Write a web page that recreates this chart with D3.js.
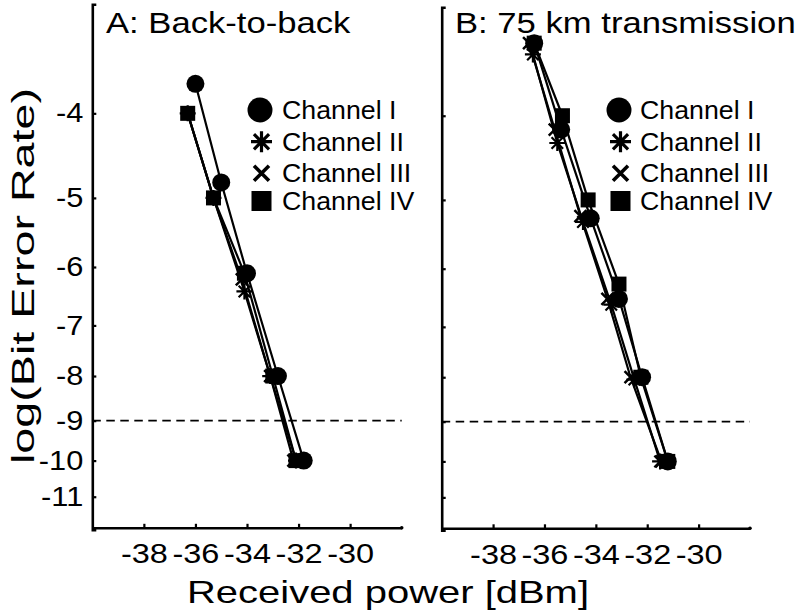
<!DOCTYPE html>
<html><head><meta charset="utf-8">
<script src="https://cdn.jsdelivr.net/npm/d3@7"></script>
<style>body{margin:0;background:#fff}svg{display:block}</style>
</head><body>
<svg id="chart" width="799" height="614"></svg>
<script>
// ---------- data ----------
const channels = ["Channel I", "Channel II", "Channel III", "Channel IV"];
const markerTypes = ["circle", "star", "cross", "square"];
const panelTitles = ["A: Back-to-back", "B: 75 km transmission"];
const xTicks = [-38, -36, -34, -32, -30];
const yTicks = [-4, -5, -6, -7, -8, -9, -10, -11];
const xDomain = [-40, -28];
const yDomain = [-3, -12];          // log(BER), plotted on a log(-log BER) scale
const thresholdLogBER = -9;
const xLabel = "Received power [dBm]";
const yLabel = "log(Bit Error Rate)";

// Panel A: back-to-back  [received power dBm, log BER]
const aChI   = [[-36.0, -3.7], [-35.0, -4.8], [-34.0, -6.1], [-32.8, -8], [-31.8, -10]];
const aChII  = [[-36.3, -4.0], [-35.3, -5.0], [-34.1, -6.4], [-33.1, -8], [-32.1, -10]];
const aChIII = [[-36.3, -4.0], [-35.3, -5.0], [-34.2, -6.2], [-33.1, -8], [-32.2, -10]];
const aChIV  = [[-36.3, -4.0], [-35.3, -5.0], [-34.1, -6.1], [-33.0, -8], [-32.1, -10]];
// Panel B: 75 km transmission
const bChI   = [[-36.4, -3.3], [-35.35, -4.15], [-34.2, -5.25], [-33.1, -6.5], [-32.2, -8], [-31.2, -10]];
const bChII  = [[-36.45, -3.4], [-35.5, -4.3], [-34.5, -5.3], [-33.4, -6.6], [-32.5, -8.05], [-31.5, -10]];
const bChIII = [[-36.6, -3.3], [-35.6, -4.15], [-34.6, -5.22], [-33.55, -6.5], [-32.65, -8], [-31.45, -10]];
const bChIV  = [[-36.4, -3.3], [-35.3, -4.0], [-34.3, -5.0], [-33.1, -6.25], [-32.25, -8], [-31.2, -10]];

const panelData = [[aChI, aChII, aChIII, aChIV], [bChI, bChII, bChIII, bChIV]];

// ---------- layout ----------
const FONT = "'Liberation Sans', Arial, Helvetica, sans-serif";
const panels = [
  {x0: 92.3, x1: 401.7, yTop: 4.3, yBot: 529.7, axisY: 527.8, labels: true,
   titleX: 106, legendX: 260, legendTextX: 282},
  {x0: 441.7, x1: 750, yTop: 7.2, yBot: 530.2, axisY: 528.3, labels: false,
   titleX: 455, legendX: 619, legendTextX: 640}
];

const svg = d3.select("#chart");

function markerPath(type, s) {
  if (type === "star") {
    const d = s * 0.72;
    return `M${-s},0H${s}M0,${-s}V${s}M${-d},${-d}L${d},${d}M${-d},${d}L${d},${-d}`;
  }
  if (type === "cross") {
    return `M${-s},${-s}L${s},${s}M${-s},${s}L${s},${-s}`;
  }
  return "";
}

function drawMarker(g, type, cx, cy, big) {
  if (type === "circle") {
    g.append("circle").attr("cx", cx).attr("cy", cy).attr("r", big ? 12.5 : 9).attr("fill", "#000");
  } else if (type === "square") {
    const h = big ? 10 : 7.5;
    g.append("rect").attr("x", cx - h).attr("y", cy - h).attr("width", 2 * h).attr("height", 2 * h).attr("fill", "#000");
  } else {
    const s = type === "star" ? (big ? 10.5 : 8) : (big ? 7.5 : 6);
    g.append("path").attr("d", markerPath(type, s)).attr("transform", `translate(${cx},${cy})`)
      .attr("stroke", "#000").attr("stroke-width", type === "star" ? (big ? 3.2 : 2.2) : (big ? 3.6 : 2.5))
      .attr("fill", "none");
  }
}

panels.forEach((p, pi) => {
  const g = svg.append("g");
  const x = d3.scaleLinear().domain(xDomain).range([p.x0, p.x1]);
  const yLog = d3.scaleLog().domain([-yDomain[0], -yDomain[1]]).range([p.yTop, p.yBot]);
  const y = v => yLog(-v);

  // threshold line
  g.append("line").attr("x1", p.x0).attr("x2", p.x1).attr("y1", y(thresholdLogBER)).attr("y2", y(thresholdLogBER))
    .attr("stroke", "#000").attr("stroke-width", 1.8).attr("stroke-dasharray", "8.5,5.5");

  // y axis
  const ySx = 1.14;
  const yAxis = d3.axisLeft(yLog).tickValues(yTicks.map(v => -v))
    .tickSize(-4).tickSizeOuter(-4).tickPadding(9)
    .tickFormat(d => p.labels ? String(-d) : "");
  const ya = g.append("g").attr("transform", `translate(${p.x0},0)`).call(yAxis);
  ya.select(".domain").attr("stroke-width", 2.6);
  ya.selectAll(".tick line").attr("stroke-width", 2.2);
  ya.selectAll("text").attr("font-family", FONT).attr("font-size", 27).attr("fill", "#000")
    .attr("x", -9 / ySx).attr("transform", `scale(${ySx},1)`);

  // x axis
  const xAxis = d3.axisBottom(x).tickValues(xTicks).tickSize(-4).tickSizeOuter(0).tickPadding(15.5)
    .tickFormat(d => String(d));
  const xa = g.append("g").attr("transform", `translate(0,${p.axisY})`).call(xAxis);
  xa.select(".domain").attr("stroke-width", 2.6);
  xa.selectAll(".tick line").attr("stroke-width", 2.2);
  xa.selectAll("text").attr("font-family", FONT).attr("font-size", 28).attr("fill", "#000")
    .attr("transform", "scale(1.16,1)");
  g.append("circle").attr("cx", p.x1).attr("cy", p.axisY).attr("r", 1.8).attr("fill", "#000");

  // title
  g.append("text").attr("font-family", FONT).attr("font-size", 30).attr("fill", "#000")
    .attr("transform", `translate(${p.titleX},33.3) scale(1.155,1)`).text(panelTitles[pi]);

  // series lines then markers
  const line = d3.line().x(d => x(d[0])).y(d => y(d[1]));
  panelData[pi].forEach(series => {
    g.append("path").attr("d", line(series)).attr("fill", "none").attr("stroke", "#000").attr("stroke-width", 2.2);
  });
  panelData[pi].forEach((series, si) => {
    series.forEach(d => drawMarker(g, markerTypes[si], x(d[0]), y(d[1]), false));
  });

  // legend
  const legY = [110, 141.7, 173.3, 201];
  channels.forEach((c, ci) => {
    drawMarker(g, markerTypes[ci], p.legendX + (ci ? 1.5 : 0), legY[ci], true);
    g.append("text").attr("font-family", FONT).attr("font-size", 25).attr("fill", "#000")
      .attr("transform", `translate(${p.legendTextX},${legY[ci] + 9}) scale(1.07,1)`).text(c);
  });
});

// axis labels
svg.append("text").attr("font-family", FONT).attr("font-size", 32).attr("fill", "#000")
  .attr("text-anchor", "middle")
  .attr("textLength", 402).attr("lengthAdjust", "spacingAndGlyphs")
  .attr("transform", "translate(388,603)").text(xLabel);
svg.append("text").attr("font-family", FONT).attr("font-size", 32).attr("fill", "#000")
  .attr("text-anchor", "middle")
  .attr("textLength", 376).attr("lengthAdjust", "spacingAndGlyphs")
  .attr("transform", "translate(34,276) rotate(-90)").text(yLabel);
</script>
</body></html>
